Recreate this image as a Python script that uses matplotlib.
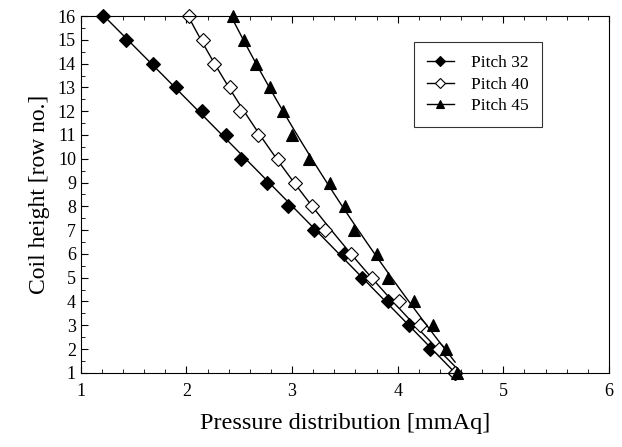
import matplotlib
matplotlib.use('Agg')
import matplotlib.pyplot as plt
import numpy as np
from matplotlib.ticker import MultipleLocator

plt.rcParams['font.family'] = ['Liberation Serif', 'DejaVu Serif']

rows = np.arange(1, 17)

# pressure [mmAq] for rows 1..16
pitch32 = [4.54, 4.31, 4.11, 3.91, 3.66, 3.49, 3.21, 2.96, 2.76, 2.52,
           2.37, 2.15, 1.90, 1.68, 1.43, 1.21]
pitch40 = [4.54, 4.39, 4.21, 4.01, 3.76, 3.56, 3.31, 3.19, 3.03, 2.87,
           2.68, 2.51, 2.41, 2.26, 2.16, 2.02]
pitch45 = [4.56, 4.46, 4.33, 4.15, 3.91, 3.80, 3.59, 3.50, 3.36, 3.16,
           3.00, 2.91, 2.79, 2.66, 2.54, 2.44]

series = [
    ('Pitch 32', pitch32, dict(marker='D', mfc='black'), (1.0, 16.0)),
    ('Pitch 40', pitch40, dict(marker='D', mfc='white'), (1.0, 16.0)),
    ('Pitch 45', pitch45, dict(marker='^', mfc='black'), (1.45, 15.7)),
]

fig = plt.figure(figsize=(6.22, 4.47), dpi=100)
ax = fig.add_axes([0.130, 0.166, 0.849, 0.798])

for name, xs, mk, (y0, y1) in series:
    ms = 7 if mk['marker'] == 'D' else 8
    # trend line: quadratic fit of pressure against row
    coef = np.polyfit(rows, xs, 2)
    yy = np.linspace(y0, y1, 100)
    ax.plot(np.polyval(coef, yy), yy, '-', color='black', lw=1.0)
    ax.plot(xs, rows, linestyle='none', mec='black', mew=0.8, ms=ms,
            clip_on=False, **mk)
    # legend proxy
    ax.plot([], [], '-', color='black', lw=1.0, mec='black', mew=0.8,
            ms=ms, label=name, **mk)

ax.set_xlim(1, 6)
ax.set_ylim(1, 16)
ax.xaxis.set_major_locator(MultipleLocator(1))
ax.xaxis.set_minor_locator(MultipleLocator(0.2))
ax.yaxis.set_major_locator(MultipleLocator(1))
ax.yaxis.set_minor_locator(MultipleLocator(0.5))
ax.tick_params(which='both', direction='in', top=True, right=False, labelsize=13)
ax.tick_params(which='major', length=5)
ax.tick_params(which='minor', length=3)
ax.tick_params(axis='x', pad=7)

ax.set_xlabel('Pressure distribution [mmAq]', fontsize=17.5, labelpad=10)
ax.set_ylabel('Coil height [row no.]', fontsize=17, labelpad=6)

leg = ax.legend(loc='upper right', bbox_to_anchor=(0.873, 0.927), borderaxespad=0,
                fancybox=False, edgecolor='black', fontsize=12.5, handlelength=1.55,
                handletextpad=1.0, borderpad=0.75, labelspacing=0.3, markerscale=0.75)
leg.get_frame().set_linewidth(0.8)

fig.savefig('out.png', dpi=100)
